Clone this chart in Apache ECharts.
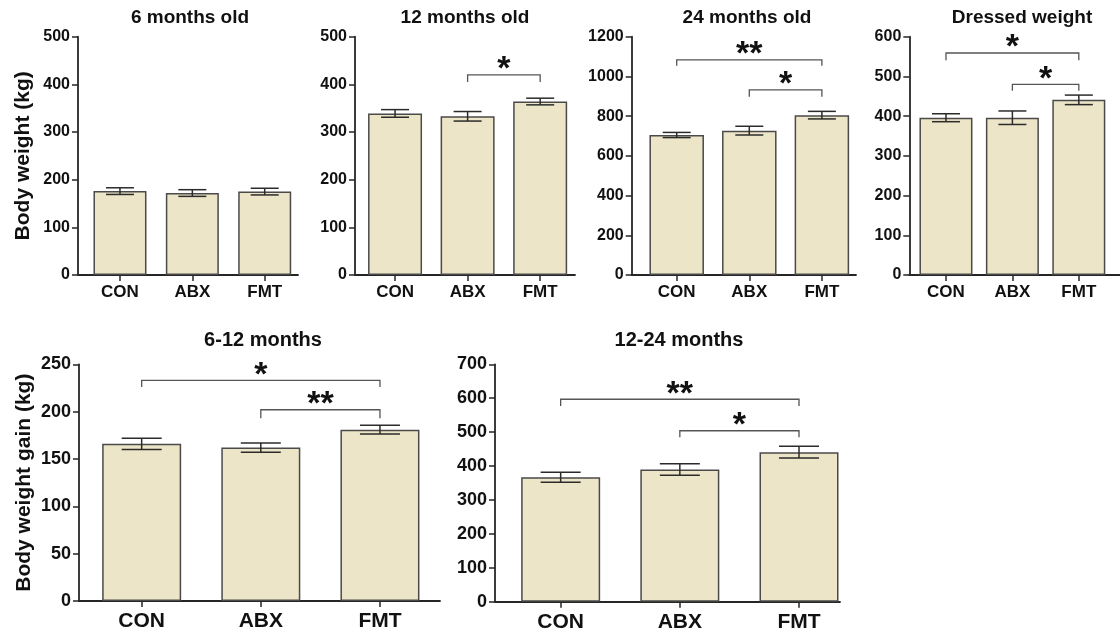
<!DOCTYPE html>
<html>
<head>
<meta charset="utf-8">
<script src="https://cdn.jsdelivr.net/npm/echarts@6/dist/echarts.min.js"></script>
<style>
html,body{margin:0;padding:0;background:#fff;}
#c{width:1120px;height:634px;}
</style>
</head>
<body>
<div id="c"></div>
<script>
// ---- data ----
const categories = ['CON', 'ABX', 'FMT'];
const panelTitles = ['6 months old', '12 months old', '24 months old', 'Dressed weight', '6-12 months', '12-24 months'];
const yTitles = ['Body weight (kg)', 'Body weight gain (kg)'];

const weight6 = [176, 172, 175];
const weight6Err = [7, 7, 7];
const weight12 = [339, 333, 364];
const weight12Err = [8, 10, 7];
const weight24 = [705, 727, 805];
const weight24Err = [13, 22, 19];
const dressed = [396, 396, 441];
const dressedErr = [10, 17, 12];
const gain6to12 = [166, 162, 181];
const gain6to12Err = [6, 5, 4.5];
const gain12to24 = [367, 390, 441];
const gain12to24Err = [15, 17, 17];

// significance: [fromIndex, toIndex, bracketLevel, dropLevel]
const sig12 = [[1, 2, 420, 405]];
const sig12Labels = ['*'];
const sig24 = [[0, 2, 1083, 1054], [1, 2, 932, 898]];
const sig24Labels = ['**', '*'];
const sigDressed = [[0, 2, 559, 541], [1, 2, 480, 464]];
const sigDressedLabels = ['*', '*'];
const sigGain6to12 = [[0, 2, 233, 226], [1, 2, 202, 193]];
const sigGain6to12Labels = ['*', '**'];
const sigGain12to24 = [[0, 2, 597, 577], [1, 2, 504, 485]];
const sigGain12to24Labels = ['**', '*'];

// y-axis ranges
const yMax = [500, 500, 1200, 600, 250, 700];
const yStep = [100, 100, 200, 100, 50, 100];

// ---- layout ----
const FONT = '"Liberation Sans", Arial, sans-serif';
const AX = '#262626';
const panels = [
  {vals: weight6, errs: weight6Err, sig: [], sigL: [], left: 78, top: 36.7, width: 220, height: 238.3, xmin: -0.58, xmax: 2.46, barW: 53, cap: 28, small: true, tx: 190, ty: 18},
  {vals: weight12, errs: weight12Err, sig: sig12, sigL: sig12Labels, left: 355, top: 36.7, width: 220, height: 238.3, xmin: -0.552, xmax: 2.48, barW: 54, cap: 28, small: true, tx: 465, ty: 18},
  {vals: weight24, errs: weight24Err, sig: sig24, sigL: sig24Labels, left: 631.7, top: 36.7, width: 224.3, height: 238.3, xmin: -0.62, xmax: 2.47, barW: 54.5, cap: 28, small: true, tx: 747, ty: 18},
  {vals: dressed, errs: dressedErr, sig: sigDressed, sigL: sigDressedLabels, left: 909.3, top: 36.7, width: 230, height: 238.3, xmin: -0.552, xmax: 2.62, barW: 53, cap: 28, small: true, tx: 1022, ty: 18},
  {vals: gain6to12, errs: gain6to12Err, sig: sigGain6to12, sigL: sigGain6to12Labels, left: 79, top: 364.3, width: 361, height: 236.7, xmin: -0.526, xmax: 2.504, barW: 79, cap: 40, small: false, tx: 263, ty: 340},
  {vals: gain12to24, errs: gain12to24Err, sig: sigGain12to24, sigL: sigGain12to24Labels, left: 495, top: 364.3, width: 345, height: 237.4, xmin: -0.551, xmax: 2.344, barW: 79, cap: 40, small: false, tx: 679, ty: 340}
];

const grid = [], xAxis = [], yAxis = [], series = [], graphic = [];

panels.forEach((p, i) => {
  grid.push({left: p.left, top: p.top, width: p.width, height: p.height, containLabel: false});
  xAxis.push({
    type: 'value', gridIndex: i, min: p.xmin, max: p.xmax,
    splitLine: {show: false},
    axisLine: {show: true, onZero: false, lineStyle: {color: AX, width: 1.8}},
    axisTick: {show: true, customValues: [0, 1, 2], length: 6, lineStyle: {color: AX, width: 1.5}},
    axisLabel: {
      customValues: [0, 1, 2],
      formatter: v => categories[Math.round(v)],
      color: '#111', fontWeight: 'bold', fontFamily: FONT,
      fontSize: p.small ? 17 : 21, margin: p.small ? 9 : 10
    }
  });
  const yA = {
    type: 'value', gridIndex: i, min: 0, max: yMax[i], interval: yStep[i],
    splitLine: {show: false},
    axisLine: {show: true, onZero: false, lineStyle: {color: AX, width: 1.8}},
    axisTick: {show: true, length: 6, lineStyle: {color: AX, width: 1.5}},
    axisLabel: {formatter: v => String(v), color: '#111', fontWeight: 'bold', fontFamily: FONT, fontSize: p.small ? 16 : 18, margin: 8}
  };
  if (i === 0 || i === 4) {
    yA.name = i === 0 ? yTitles[0] : yTitles[1];
    yA.nameLocation = 'middle';
    yA.nameGap = 44;
    yA.nameTextStyle = {color: '#111', fontWeight: 'bold', fontFamily: FONT, fontSize: 21};
  }
  yAxis.push(yA);

  series.push({
    type: 'bar', xAxisIndex: i, yAxisIndex: i,
    barWidth: p.barW,
    data: p.vals.map((v, k) => [k, v]),
    itemStyle: {color: '#ece5c8', borderColor: '#4a4a4a', borderWidth: 1.5},
    silent: true, z: 2
  });

  const cap = p.cap;
  series.push({
    type: 'custom', xAxisIndex: i, yAxisIndex: i, z: 5, silent: true,
    data: p.vals.map((v, k) => [k, v - p.errs[k], v + p.errs[k]]),
    renderItem: (params, api) => {
      const x = api.value(0);
      const lo = api.coord([x, api.value(1)]);
      const hi = api.coord([x, api.value(2)]);
      const st = {stroke: '#2b2b2b', lineWidth: 1.5};
      return {type: 'group', children: [
        {type: 'line', shape: {x1: lo[0], y1: lo[1], x2: hi[0], y2: hi[1]}, style: st},
        {type: 'line', shape: {x1: hi[0] - cap / 2, y1: hi[1], x2: hi[0] + cap / 2, y2: hi[1]}, style: st},
        {type: 'line', shape: {x1: lo[0] - cap / 2, y1: lo[1], x2: lo[0] + cap / 2, y2: lo[1]}, style: st}
      ]};
    }
  });

  if (p.sig.length) {
    const labels = p.sigL;
    series.push({
      type: 'custom', xAxisIndex: i, yAxisIndex: i, z: 6, silent: true, clip: false,
      data: p.sig,
      renderItem: (params, api) => {
        const a = api.value(0), b = api.value(1), yl = api.value(2), yd = api.value(3);
        const p1 = api.coord([a, yd]), p2 = api.coord([a, yl]), p3 = api.coord([b, yl]), p4 = api.coord([b, yd]);
        return {type: 'group', children: [
          {type: 'polyline', shape: {points: [p1, p2, p3, p4]}, style: {stroke: '#555', lineWidth: 1.3, fill: null}},
          {type: 'text', x: (p2[0] + p3[0]) / 2, y: p2[1] - 5,
            style: {text: labels[params.dataIndex], fill: '#111', font: 'bold 34px ' + FONT, align: 'center', verticalAlign: 'middle'}}
        ]};
      }
    });
  }

  graphic.push({
    type: 'text', x: p.tx, y: p.ty,
    style: {text: panelTitles[i], fill: '#111', font: 'bold ' + (p.small ? 19 : 20) + 'px ' + FONT, align: 'center', verticalAlign: 'middle'}
  });
});

const chart = echarts.init(document.getElementById('c'), null, {renderer: 'canvas'});
chart.setOption({animation: false, backgroundColor: '#fff', grid, xAxis, yAxis, series, graphic});
</script>
</body>
</html>
